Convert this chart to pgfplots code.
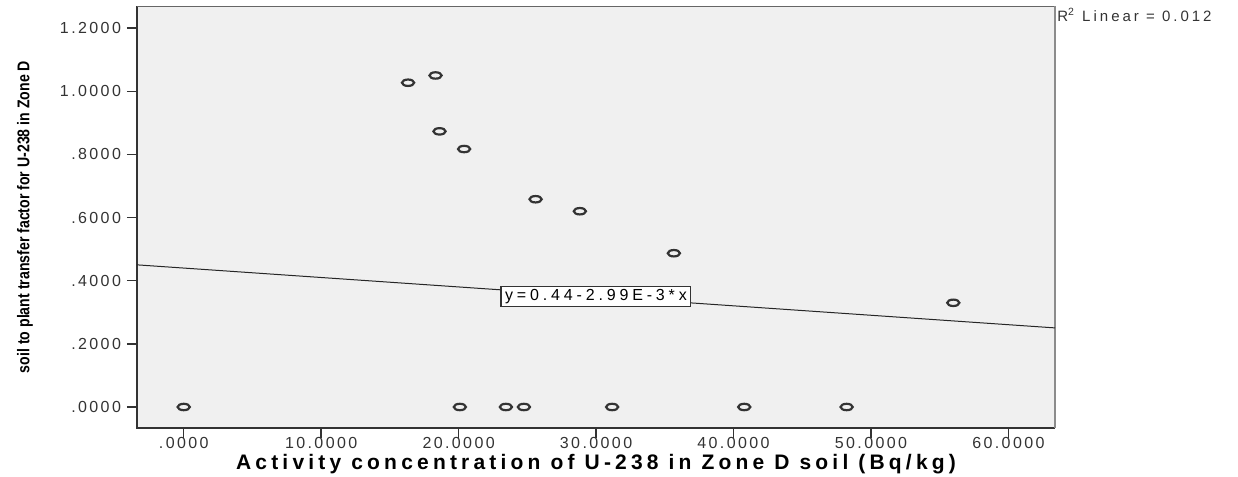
\documentclass[border=0pt]{standalone}
\usepackage{pgfplots}
\pgfplotsset{compat=1.18}
\usepackage{fontspec}
\setmainfont{Liberation Sans}
\newfontfamily\spss[LetterSpace=15]{Liberation Sans}
\newfontfamily\spsslab[LetterSpace=20]{Liberation Sans}
\newfontfamily\spssbox[LetterSpace=24]{Liberation Sans}
\newfontfamily\narrow[FakeStretch=0.83]{Liberation Sans}
\definecolor{plotbg}{HTML}{F0F0F0}
\definecolor{ink}{HTML}{333333}

\begin{document}
\begin{tikzpicture}
\begin{axis}[
  name=ax,
  scale only axis,
  width=459pt, height=211pt,
  xmin=-3.40, xmax=63.39,
  ymin=-0.0665, ymax=1.270,
  clip=false,
  axis background/.style={fill=plotbg},
  axis line style={draw=none},
  xtick={0,10,20,30,40,50,60},
  xticklabels={.0000,10.0000,20.0000,30.0000,40.0000,50.0000,60.0000},
  ytick={0,0.2,0.4,0.6,0.8,1.0,1.2},
  yticklabels={.0000,.2000,.4000,.6000,.8000,1.0000,1.2000},
  tick align=outside,
  xtick pos=left, ytick pos=left,
  major tick length=5pt,
  tick style={ink, line width=0.75pt},
  tick label style={font=\spss\fontsize{8}{9}\selectfont, text=ink},
  xticklabel style={yshift=4pt},
  yticklabel style={xshift=0.5pt},
  xlabel={Activity concentration of U-238 in Zone D soil (Bq/kg)},
  xlabel style={at={(axis description cs:0.5,-0.086)}, anchor=center,
    font=\spsslab\bfseries\fontsize{10.5}{12}\selectfont},
  ylabel={soil to plant transfer factor for U-238 in Zone D},
  ylabel style={at={(axis description cs:-0.122,0.5)}, anchor=center,
    font=\narrow\bfseries\fontsize{8.5}{10}\selectfont},
]
% frame
\draw[ink, line width=0.75pt] (rel axis cs:0,1) -- (rel axis cs:0,0) -- (rel axis cs:1,0);
\draw[black!60, line width=0.5pt] (rel axis cs:0,1) -- (rel axis cs:1,1);
\draw[black!45, line width=1pt] (rel axis cs:1,1) -- (rel axis cs:1,0);

% fit line y = 0.44 - 2.99E-3 x
\addplot[black!85, line width=0.5pt] coordinates {(-3.40,0.4502) (63.39,0.2505)};

% observations
\addplot[only marks, mark=o, mark size=1.6pt,
  mark options={xscale=1.9, line width=1.1pt, draw=ink}] coordinates {
  (0,0) (16.32,1.027) (18.32,1.050) (18.61,0.873) (20.40,0.817)
  (25.60,0.658) (28.82,0.620) (35.66,0.487) (55.99,0.330)
  (20.09,0) (23.44,0) (24.75,0) (31.17,0) (40.78,0) (48.23,0)
};

\node[draw=ink, fill=white, line width=0.6pt, inner xsep=2pt, inner ysep=1.5pt,
  font=\spssbox\fontsize{8}{9}\selectfont] at (axis cs:29.99,0.350) {y=0.44-2.99E-3*x};
\end{axis}
\node[anchor=west, inner sep=0pt, font=\spsslab\fontsize{7.5}{8}\selectfont, text=ink]
  at ([xshift=1pt,yshift=-4.5pt]ax.north east) {R\textsuperscript{2} Linear = 0.012};
\pgfresetboundingbox
\path[use as bounding box] ([xshift=-68.5pt,yshift=-24.5pt]ax.south west)
  rectangle ([xshift=91.5pt,yshift=3pt]ax.north east);
\end{tikzpicture}
\end{document}
